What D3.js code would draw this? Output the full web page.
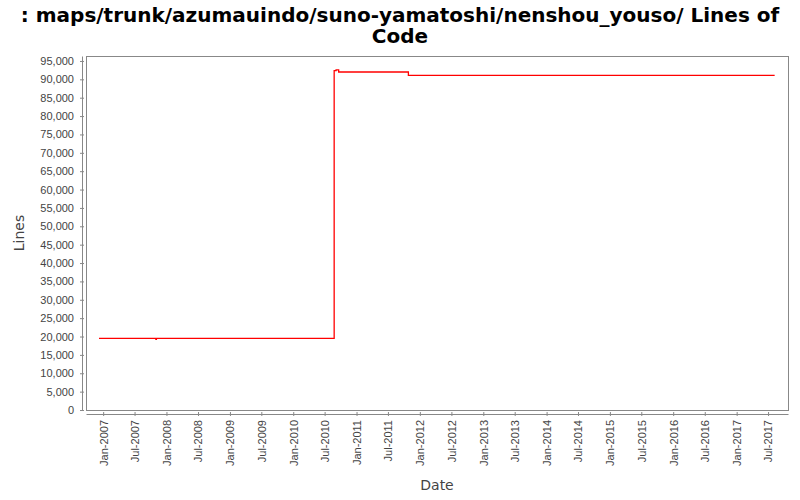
<!DOCTYPE html>
<html>
  <head>
    <style>
      body { margin: 0; background: #fff; }
      svg { font-family: "DejaVu Sans", sans-serif; }
      .title { font-size: 20px; font-weight: bold; fill: #000; text-anchor: middle; }
      .tick text { font-size: 11px; fill: #444; }
      .axis-label { font-size: 14px; fill: #444; text-anchor: middle; }
      .axis path, .axis line { stroke: #888; }
    </style>
  </head>
  <body>
    <svg id="chart" width="800" height="500"></svg>

    <script src="https://d3js.org/d3.v7.min.js"></script>
    <script type="text/javascript">
      const titleLines = [": maps/trunk/azumauindo/suno-yamatoshi/nenshou_youso/ Lines of", "Code"];
      const dates = ["2006-12-08", "2007-11-01", "2007-11-04", "2010-08-25", "2010-09-05", "2010-09-20", "2011-10-27", "2017-08-08"];
      const lines = [19500, 19250, 19500, 92350, 92550, 92000, 91100, 91100];
      const yTicks = d3.range(0, 95001, 5000);

      (function() {
        const svg = d3.select('#chart');
        const left = 86, right = 788, top = 56, bottom = 410;
        const parse = d3.timeParse("%Y-%m-%d");
        const data = dates.map(function(d, i) { return { date: parse(d), value: lines[i] }; });

        const x = d3.scaleTime()
          .domain([new Date(2006, 8, 24), new Date(2017, 9, 24)])
          .range([left, right]);
        const y = d3.scaleLinear().domain([0, 96350]).range([bottom, top]);

        svg.selectAll('text.title')
          .data(titleLines)
          .enter().append('text')
          .attr('class', 'title')
          .attr('x', 400)
          .attr('y', function(d, i) { return 22 + i * 21; })
          .text(function(d) { return d; });

        // plot frame
        svg.append('rect')
          .attr('x', left + 0.5).attr('y', top + 0.5)
          .attr('width', right - left).attr('height', bottom - top)
          .attr('fill', '#fff').attr('stroke', '#888');

        const xTicks = [];
        for (let yr = 2007; yr <= 2017; yr++) {
          xTicks.push(new Date(yr, 0, 1));
          xTicks.push(new Date(yr, 6, 1));
        }

        const xAxis = svg.append('g')
          .attr('class', 'axis')
          .attr('transform', 'translate(0,' + (bottom + 4) + ')')
          .call(d3.axisBottom(x).tickValues(xTicks).tickFormat(d3.timeFormat("%b-%Y")).tickSizeInner(2).tickSizeOuter(0));
        xAxis.selectAll('.tick line').attr('y1', -2);
        xAxis.selectAll('.tick text')
          .attr('transform', 'rotate(-90)')
          .attr('text-anchor', 'end')
          .attr('x', -6)
          .attr('y', 0)
          .attr('dy', '0.35em');

        const yAxis = svg.append('g')
          .attr('class', 'axis')
          .attr('transform', 'translate(' + (left - 4) + ',0)')
          .call(d3.axisLeft(y).tickValues(yTicks).tickFormat(d3.format(",")).tickSizeInner(2).tickSizeOuter(0).tickPadding(6));
        yAxis.selectAll('.tick line').attr('x1', 2);

        svg.append('path')
          .datum(data)
          .attr('fill', 'none')
          .attr('stroke', 'red')
          .attr('stroke-width', 1.3)
          .attr('d', d3.line()
            .curve(d3.curveStepAfter)
            .x(function(d) { return x(d.date); })
            .y(function(d) { return y(d.value); }));

        svg.append('text')
          .attr('class', 'axis-label')
          .attr('x', (left + right) / 2)
          .attr('y', 490)
          .text('Date');

        svg.append('text')
          .attr('class', 'axis-label')
          .attr('transform', 'translate(24,' + (top + bottom) / 2 + ') rotate(-90)')
          .text('Lines');
      })()
    </script>
  </body>
</html>
